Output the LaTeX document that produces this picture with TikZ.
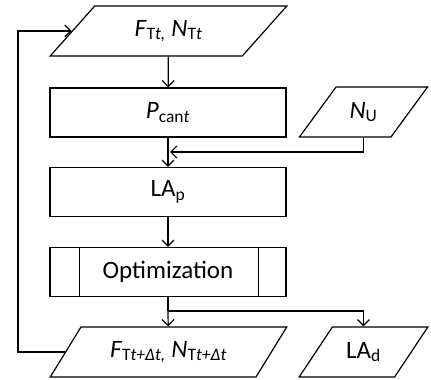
\documentclass[tikz,border=0pt]{standalone}
\usepackage{fontspec}
\setmainfont{Carlito}
\usetikzlibrary{shapes.geometric,arrows.meta,positioning}

\tikzset{
  data/.style={trapezium, trapezium left angle=47, trapezium right angle=133,
    trapezium stretches=true, draw, minimum width=237pt, minimum height=50pt, inner sep=0pt},
  small data/.style={data, minimum width=129pt},
  proc/.style={rectangle, draw, minimum width=236pt, minimum height=49pt, inner sep=0pt},
  flow/.style={-{Straight Barb[length=6pt,width=12pt,line width=1.2pt]}}
}

\begin{document}
\begin{tikzpicture}[x=1pt,y=-1pt,line width=1.2pt,font=\fontsize{25}{30}\selectfont]
\useasboundingbox (0,0) rectangle (431,380);

\node (in) [data] at (168.5,31) {\textit{F}\textsubscript{T\textit{t,}} \textit{N}\textsubscript{T\textit{t}}};
\node (pc) [proc] at (168,112.5) {\textit{P}\textsubscript{can\textit{t}}};
\node (nu) [small data] at (363.5,112) {\textit{N}\textsubscript{U}};
\node (lap) [proc] at (168,192) {LA\textsubscript{p}};
\node (opt) [proc] at (168,272) {Optimization};
\node (out) [data] at (168.5,352) {\textit{F}\textsubscript{T\textit{t+Δt,}} \textit{N}\textsubscript{T\textit{t+Δt}}};
\node (lad) [small data] at (363.5,352) {LA\textsubscript{d}};

\coordinate (join) at (170,152);
\coordinate (split) at (168,311);
\coordinate (back) at (18,0);

% side bars of the predefined process
\draw ([xshift=30pt]opt.north west) -- ([xshift=30pt]opt.south west);
\draw ([xshift=-28pt]opt.north east) -- ([xshift=-28pt]opt.south east);

\draw[flow] (in) -- (pc);
\draw[flow] (pc) -- (lap);
\draw[flow] (nu.south) |- (join);
\draw[flow] (lap) -- (opt);
\draw (opt) -- (split);
\draw[flow] (split) -- (out);
\draw[flow] (split) -| (lad);
\draw[flow] (out.west) -- (out.west -| back) |- (in.west);
\end{tikzpicture}
\end{document}
